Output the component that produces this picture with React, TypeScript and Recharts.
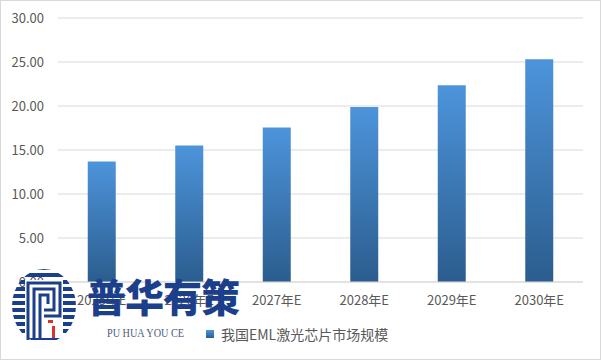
import React from "react";
import { BarChart, Bar, XAxis, YAxis, CartesianGrid, Legend } from "recharts";

const years = ["2025年E", "2026年E", "2027年E", "2028年E", "2029年E", "2030年E"];
const marketSize = [13.7, 15.5, 17.55, 19.9, 22.35, 25.3];
const yTicks = [0, 5, 10, 15, 20, 25, 30];
const seriesName = "我国EML激光芯片市场规模";

const data = years.map((year, i) => ({ year, value: marketSize[i] }));

const FONT = '"Noto Sans CJK SC", "Noto Sans", sans-serif';
const LOGO_BLUE = "#1c3f8c";

const Logo = () => {
  const stripes = [];
  for (let y = 266; y < 354; y += 7) {
    stripes.push(<rect key={y} x={8} y={y} width={74} height={4} fill={LOGO_BLUE} />);
  }
  return (
    <svg width={100} height={100} style={{ position: "absolute", left: 0, top: 260 }} viewBox="0 260 100 100">
      <defs>
        <clipPath id="logoClip">
          <ellipse cx={44} cy={306} rx={32} ry={37} />
        </clipPath>
      </defs>
      <g clipPath="url(#logoClip)">{stripes}</g>
      <rect x={25} y={280} width={38} height={58} fill="#fff" />
      <path d="M28 340 V283 H60 V316 H44" fill="none" stroke={LOGO_BLUE} strokeWidth={3} />
      <path d="M34 340 V289 H54 V310 H44" fill="none" stroke={LOGO_BLUE} strokeWidth={3} />
      <path d="M40 340 V295 H48 V304" fill="none" stroke={LOGO_BLUE} strokeWidth={3} />
      <rect x={48} y={320} width={5} height={3} fill="#d9342b" />
      <rect x={52} y={326} width={3} height={12} fill="#d9342b" />
    </svg>
  );
};

const LegendContent = () => (
  <div style={{ display: "flex", alignItems: "center", fontSize: 14, color: "#595959", fontFamily: FONT }}>
    <span
      style={{
        display: "inline-block",
        width: 8,
        height: 8,
        marginRight: 7,
        background: "linear-gradient(#4d94db, #2b5d8e)",
      }}
    />
    {seriesName}
  </div>
);

const App = () => (
  <div
    style={{
      position: "absolute",
      left: 0,
      top: 0,
      width: 601,
      height: 360,
      background: "#fff",
      fontFamily: FONT,
    }}
  >
    <BarChart
      width={601}
      height={360}
      data={data}
      margin={{ top: 18, right: 18, left: 0, bottom: 20 }}
      barCategoryGap="34%"
    >
      <defs>
        <linearGradient id="barFill" x1="0" y1="0" x2="0" y2="1">
          <stop offset="0%" stopColor="#4d94db" />
          <stop offset="100%" stopColor="#2b5d8e" />
        </linearGradient>
      </defs>
      <CartesianGrid vertical={false} stroke="#d9d9d9" />
      <XAxis
        dataKey="year"
        axisLine={{ stroke: "#d9d9d9" }}
        tickLine={false}
        tick={{ fill: "#595959", fontSize: 13, fontFamily: FONT }}
        tickMargin={8}
        height={30}
      />
      <YAxis
        domain={[0, 30]}
        ticks={yTicks}
        width={58}
        axisLine={false}
        tickLine={false}
        tickFormatter={(v: number) => v.toFixed(2)}
        tick={{ fill: "#595959", fontSize: 13, fontFamily: FONT }}
        tickMargin={8}
      />
      <Legend
        verticalAlign="bottom"
        height={28}
        content={<LegendContent />}
        wrapperStyle={{ left: 206, bottom: 8, width: "auto" }}
      />
      <Bar dataKey="value" name={seriesName} fill="url(#barFill)" isAnimationActive={false} />
    </BarChart>
    <Logo />
    <div
      style={{
        position: "absolute",
        left: 87,
        top: 270,
        fontSize: 39,
        fontWeight: 900,
        color: LOGO_BLUE,
        letterSpacing: -1,
        lineHeight: "50px",
        fontFamily: FONT,
      }}
    >
      普华有策
    </div>
    <div
      style={{
        position: "absolute",
        left: 107,
        top: 326,
        fontSize: 12,
        color: "#4a5a7a",
        fontFamily: '"Liberation Serif", serif',
        transform: "scaleX(0.85)",
        transformOrigin: "left",
      }}
    >
      PU HUA YOU CE
    </div>
    <div
      style={{
        position: "absolute",
        left: 0,
        top: 0,
        width: 599,
        height: 358,
        border: "1px solid #d9d9d9",
        pointerEvents: "none",
      }}
    />
  </div>
);

export default App;
